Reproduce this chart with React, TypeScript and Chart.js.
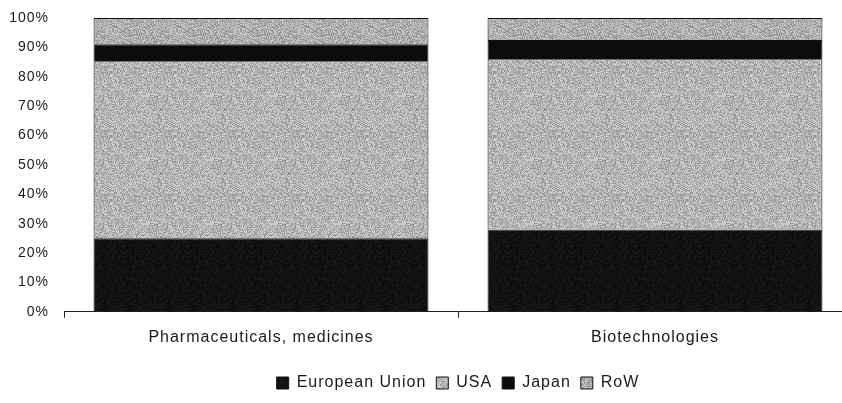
import React, { useEffect, useRef } from "react";
import { Chart, registerables } from "chart.js";

Chart.register(...registerables);

const categories = ["Pharmaceuticals, medicines", "Biotechnologies"];
const euValues = [25, 28];
const usaValues = [60.3, 58];
const japanValues = [5.8, 6.5];
const rowValues = [8.9, 7.5];
const yTicks = [0, 10, 20, 30, 40, 50, 60, 70, 80, 90, 100];

const FONT = "Liberation Sans, Arial, sans-serif";

function makeNoise(base: number, spread: number, seed: number): CanvasPattern | string {
  const c = document.createElement("canvas");
  c.width = 64;
  c.height = 64;
  const ctx = c.getContext("2d");
  if (!ctx) return `rgb(${base},${base},${base})`;
  const img = ctx.createImageData(64, 64);
  let s = seed;
  for (let i = 0; i < 64 * 64; i++) {
    s = (s * 1103515245 + 12345) & 0x7fffffff;
    const n = ((s >> 8) % 1000) / 1000 - 0.5;
    const v = Math.max(0, Math.min(255, Math.round(base + n * spread)));
    img.data[i * 4] = v;
    img.data[i * 4 + 1] = v;
    img.data[i * 4 + 2] = v;
    img.data[i * 4 + 3] = 255;
  }
  ctx.putImageData(img, 0, 0);
  const p = ctx.createPattern(c, "repeat");
  return p || `rgb(${base},${base},${base})`;
}

const spacingPlugin = {
  id: "letterSpacing",
  beforeUpdate(chart: any) {
    chart.ctx.letterSpacing = "1px";
  },
  beforeDraw(chart: any) {
    chart.ctx.letterSpacing = "1px";
  },
};

export default function App() {
  const ref = useRef<HTMLCanvasElement | null>(null);
  useEffect(() => {
    if (!ref.current) return;
    const gray1 = makeNoise(180, 74, 12345);
    const gray2 = makeNoise(174, 74, 777);
    const dark = makeNoise(18, 20, 4242);
    const chart = new Chart(ref.current, {
      type: "bar",
      data: {
        labels: categories,
        datasets: [
          { label: "European Union", data: euValues, backgroundColor: dark as any, borderColor: "#111", borderWidth: 1 },
          { label: "USA", data: usaValues, backgroundColor: gray1 as any, borderColor: "#111", borderWidth: 1 },
          { label: "Japan", data: japanValues, backgroundColor: "#0c0c0c", borderColor: "#111", borderWidth: 1 },
          { label: "RoW", data: rowValues, backgroundColor: gray2 as any, borderColor: "#111", borderWidth: 1 },
        ],
      },
      plugins: [spacingPlugin as any],
      options: {
        animation: false,
        responsive: false,
        maintainAspectRatio: false,
        layout: { padding: { left: 0, right: 8, top: 18, bottom: 2 } },
        datasets: { bar: { barPercentage: 1, categoryPercentage: 0.85 } },
        plugins: {
          tooltip: { enabled: false },
          legend: {
            position: "bottom",
            fullSize: false,
            labels: {
              boxWidth: 12,
              boxHeight: 12,
              color: "#1a1a1a",
              padding: 10,
              font: { family: FONT, size: 16 },
            },
          },
        },
        scales: {
          x: {
            stacked: true,
            afterFit: (scale: any) => {
              scale.height += 8;
            },
            grid: { display: true, drawOnChartArea: false, drawTicks: true, tickLength: 6, color: "#222", offset: true },
            border: { display: true, color: "#222", width: 1 },
            ticks: {
              color: "#1a1a1a",
              padding: 10,
              font: { family: FONT, size: 16 },
            },
          },
          y: {
            stacked: true,
            min: 0,
            max: 100,
            afterFit: (scale: any) => {
              scale.width = 64;
              scale.paddingTop = 0;
              scale.paddingBottom = 0;
            },
            afterBuildTicks: (scale: any) => {
              scale.ticks = yTicks.map((v) => ({ value: v }));
            },
            grid: { display: false, drawTicks: false },
            border: { display: false },
            ticks: {
              color: "#1a1a1a",
              padding: 15,
              font: { family: FONT, size: 14 },
              callback: (v: any) => `${v}%`,
            },
          },
        },
      },
    });
    return () => chart.destroy();
  }, []);
  return (
    <div
      style={{
        position: "fixed",
        left: 0,
        top: 0,
        width: 842,
        height: 403,
        background: "#fff",
        overflow: "hidden",
      }}
    >
      <canvas ref={ref} width={860} height={403} style={{ display: "block" }} />
    </div>
  );
}
